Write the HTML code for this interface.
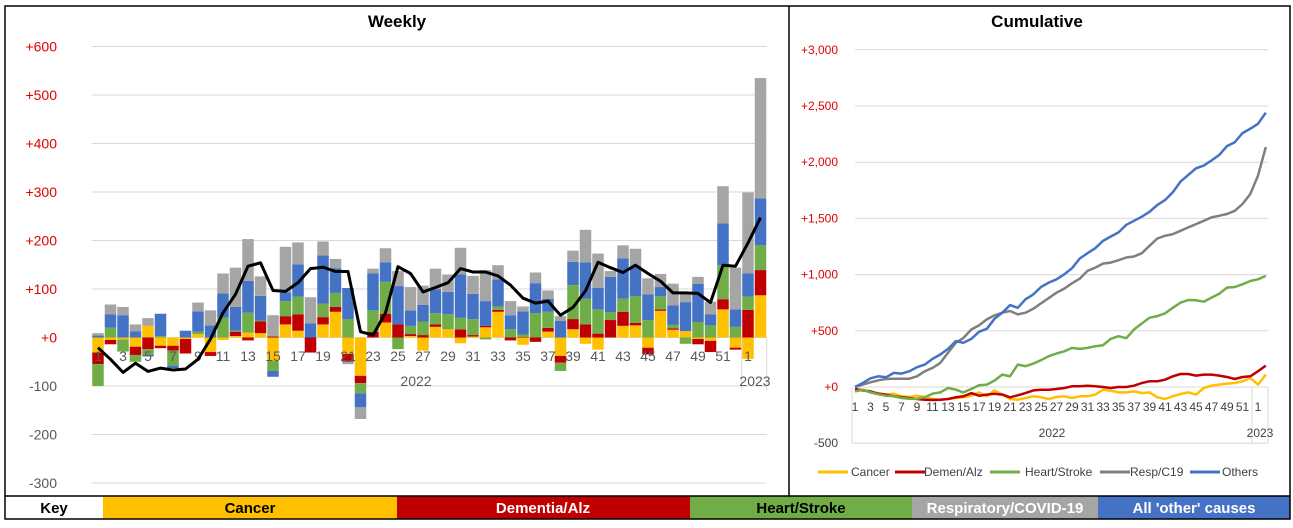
<!DOCTYPE html>
<html><head><meta charset="utf-8">
<style>
html,body{margin:0;padding:0;background:#fff;}
body{width:1293px;height:528px;overflow:hidden;font-family:"Liberation Sans",Calibri,sans-serif;}
svg{display:block;}
</style></head>
<body>
<svg id="chart" width="1293" height="528" viewBox="0 0 1293 528" xmlns="http://www.w3.org/2000/svg" font-family="Liberation Sans, sans-serif">
  <rect x="0" y="0" width="1293" height="528" fill="#fff"/>
  <g id="weekly"></g>
  <g id="cumul"></g>
  <text x="397" y="27" text-anchor="middle" font-size="17" font-weight="bold" fill="#000">Weekly</text>
  <text x="1037" y="27" text-anchor="middle" font-size="17" font-weight="bold" fill="#000">Cumulative</text>
  <g font-weight="bold" font-size="15" text-anchor="middle">
    <rect x="5" y="496" width="98" height="23" fill="#fff"/>
    <text x="54" y="513" fill="#000">Key</text>
    <rect x="103" y="496" width="294" height="23" fill="#FFC000"/>
    <text x="250" y="513" fill="#000">Cancer</text>
    <rect x="397" y="496" width="293" height="23" fill="#C00000"/>
    <text x="543" y="513" fill="#fff">Dementia/Alz</text>
    <rect x="690" y="496" width="222" height="23" fill="#70AD47"/>
    <text x="801" y="513" fill="#000">Heart/Stroke</text>
    <rect x="912" y="496" width="186" height="23" fill="#A5A5A5"/>
    <text x="1005" y="513" fill="#fff">Respiratory/COVID-19</text>
    <rect x="1098" y="496" width="192" height="23" fill="#4472C4"/>
    <text x="1194" y="513" fill="#fff">All 'other' causes</text>
  </g>
  <g fill="none" stroke="#000" stroke-width="1.5">
    <rect x="5" y="6" width="1285" height="513"/>
    <line x1="5" y1="496" x2="1290" y2="496"/>
    <line x1="789" y1="6" x2="789" y2="496"/>
  </g>
</svg>
<script>
// ---------- Weekly data ----------
const weekLabels = ["1","","3","","5","","7","","9","","11","","13","","15","","17","","19","","21","","23","","25","","27","","29","","31","","33","","35","","37","","39","","41","","43","","45","","47","","49","","51","","1",""];
const cancer = [-31,-5,-4,-19,24,-17,-17,-3,7,-30,-5,3,10,9,-48,27,14,0,27,53,-34,-79,0,31,0,3,-27,22,17,-12,2,21,53,0,-15,0,12,-38,17,-13,-25,0,24,25,-21,55,16,13,-3,-7,58,-21,-44,87];
const dementia = [-24,-9,0,-17,-24,-5,-10,-30,0,-8,0,9,-6,24,2,17,34,-31,15,10,-16,-15,12,18,27,4,5,5,0,17,3,3,4,-6,1,-9,8,-14,21,27,8,36,29,5,-14,3,3,0,-11,-23,21,-4,57,52];
const heart = [-45,20,-25,-14,-12,3,-31,0,5,0,41,2,41,2,-21,31,36,0,28,29,38,-21,44,66,-24,17,28,23,31,24,33,-4,7,17,5,50,33,-17,70,53,50,16,27,55,36,27,7,-13,32,25,70,22,27,51];
const others = [4,28,46,13,-3,46,-5,14,42,25,50,49,66,51,-12,18,67,29,99,51,64,-29,76,40,79,32,34,49,46,89,52,51,56,29,48,62,27,34,48,75,44,73,83,62,53,19,40,60,79,23,86,36,48,97];
const resp = [5,20,17,14,16,0,0,0,18,31,41,81,86,40,44,94,45,54,29,19,-5,-24,10,29,31,48,40,43,36,55,37,64,29,29,10,22,17,10,23,67,71,12,27,36,33,27,45,19,14,26,77,86,167,248];
const avgLine = [-21,-45,-72,-53,-70,-63,-67,-65,-45,-3,51,89,147,154,97,95,113,142,145,136,136,12,5,51,146,132,94,103,113,142,135,135,127,108,81,71,75,46,62,96,155,144,134,149,132,116,92,92,91,72,149,147,195,247];
const weeklyTicks = [600,500,400,300,200,100,0,-100,-200,-300];

// ---------- Cumulative data ----------
const cumLabels = weekLabels;
const cumCancer = [-30,-24,-48,-54,-68,-60,-83,-89,-77,-89,-107,-113,-107,-98,-92,-77,-48,-83,-30,-68,-107,-113,-98,-83,-92,-107,-89,-83,-98,-83,-83,-68,-24,-33,-48,-48,-39,-54,-48,-92,-107,-83,-62,-48,-68,-9,12,21,30,36,51,80,21,110];
const cumDementia = [-18,-30,-39,-60,-68,-83,-92,-98,-107,-113,-116,-113,-107,-92,-83,-54,-77,-68,-60,-68,-92,-74,-54,-30,-24,-24,-18,-9,6,6,12,6,0,-9,0,0,12,36,51,51,65,95,116,116,101,110,110,101,89,71,89,95,140,190];
const cumHeart = [-39,-24,-48,-65,-77,-83,-98,-104,-104,-92,-60,-48,-9,-24,-48,-18,15,21,57,110,95,199,185,208,238,274,298,318,348,339,348,363,372,429,452,434,512,565,616,631,655,705,750,774,771,759,795,830,884,890,914,943,958,988];
const cumResp = [0,21,42,60,71,74,74,74,95,140,170,214,304,393,437,512,548,601,637,661,676,646,661,696,744,792,839,875,923,964,1033,1062,1098,1107,1128,1152,1161,1190,1256,1321,1345,1360,1390,1420,1449,1479,1509,1524,1539,1568,1628,1717,1881,2134];
const cumOthers = [0,36,77,95,86,125,119,140,176,199,250,289,339,408,393,428,491,518,607,661,729,705,780,824,890,929,958,1003,1057,1143,1190,1235,1300,1339,1375,1443,1479,1515,1559,1619,1663,1732,1827,1887,1946,1970,2015,2065,2143,2178,2259,2298,2342,2440];
const cumTicks = [3000,2500,2000,1500,1000,500,0,-500];
const cumTickLabels = ["+3,000","+2,500","+2,000","+1,500","+1,000","+500","+0","-500"];

const NS = "http://www.w3.org/2000/svg";
function mk(tag, attrs, parent){
  const e = document.createElementNS(NS, tag);
  for (const k in attrs) e.setAttribute(k, attrs[k]);
  parent.appendChild(e);
  return e;
}

// ---------- Weekly chart ----------
(function(){
  const g = document.getElementById('weekly');
  const x0 = 91.75, step = 12.5, yZero = 337.5, pxPer = 0.485;
  const xC = i => x0 + step*(i+0.5);
  const y = v => yZero - v*pxPer;
  const right = x0 + step*weekLabels.length;
  weeklyTicks.forEach(t => {
    const gl = mk('line', {x1:x0, x2:right, y1:y(t), y2:y(t), stroke:'#D9D9D9', 'stroke-width':1}, g);
    
    
    const tl = mk('text', {x:57, y:y(t)+5, 'text-anchor':'end', 'font-size':14, fill: t>=0 ? '#E00000' : '#595959'}, g);
    tl.textContent = (t>=0 ? '+' : '') + t;
    
    
  });
  const series = [[cancer,'#FFC000','cancer'],[dementia,'#C00000','dementia'],[heart,'#70AD47','heart'],[others,'#4472C4','others'],[resp,'#A5A5A5','resp']];
  const bw = 11.5;
  for (let i=0;i<weekLabels.length;i++){
    let pos=0, neg=0;
    series.forEach(([arr,col,nm]) => {
      const v = arr[i];
      let top, h;
      if (v>=0){ top = y(pos+v); h = v*pxPer; pos += v; }
      else { top = y(neg); h = -v*pxPer; neg += v; }
      const r = mk('rect', {x:xC(i)-bw/2, y:top, width:bw, height:h, fill:col}, g);
      
      
    });
  }
  // axis labels
  weekLabels.forEach((l,i) => {
    if (!l) return;
    const t = mk('text', {x:xC(i), y:361, 'text-anchor':'middle', 'font-size':14, fill:'#595959'}, g);
    t.textContent = l;
    
    
  });
  const sep = mk('line', {x1:x0+step*52, x2:x0+step*52, y1:yZero, y2:390, stroke:'#D9D9D9'}, g);
  
  
  const sep2 = mk('line', {x1:right, x2:right, y1:yZero, y2:390, stroke:'#D9D9D9'}, g);
  
  
  const y22 = mk('text', {x:416, y:386, 'text-anchor':'middle', 'font-size':14, fill:'#595959'}, g);
  y22.textContent = '2022';
  
  
  const y23 = mk('text', {x:755, y:386, 'text-anchor':'middle', 'font-size':14, fill:'#595959'}, g);
  y23.textContent = '2023';
  
  
  const pts = avgLine.map((v,i) => xC(i).toFixed(1)+','+y(v).toFixed(1)).join(' ');
  const pl = mk('polyline', {points:pts, fill:'none', stroke:'#000', 'stroke-width':3, 'stroke-linejoin':'round'}, g);
  
  
})();

// ---------- Cumulative chart ----------
(function(){
  const g = document.getElementById('cumul');
  const x0 = 852, step = 7.75, yZero = 387, pxPer = 56.2/500;
  const xC = i => 855 + step*i;
  const y = v => yZero - v*pxPer;
  const right = 1268;
  cumTicks.forEach((t,k) => {
    const gl = mk('line', {x1:t===-500?x0:855, x2:right, y1:y(t), y2:y(t), stroke:'#D9D9D9', 'stroke-width':1}, g);
    
    
    const tl = mk('text', {x:838, y:y(t)+4, 'text-anchor':'end', 'font-size':12, fill: t>=0 ? '#E00000' : '#404040'}, g);
    tl.textContent = cumTickLabels[k];
    
    
  });
  [x0, 1252, right].forEach(xx => {
    const l = mk('line', {x1:xx, x2:xx, y1:yZero, y2:443, stroke:'#D9D9D9'}, g);
    
    
  });
  cumLabels.forEach((l,i) => {
    if (!l) return;
    const t = mk('text', {x:xC(i), y:411, 'text-anchor':'middle', 'font-size':12, fill:'#404040'}, g);
    t.textContent = l;
    
    
  });
  const a = mk('text', {x:1052, y:437, 'text-anchor':'middle', 'font-size':12, fill:'#404040'}, g);
  a.textContent = '2022';
  
  
  const b = mk('text', {x:1260, y:437, 'text-anchor':'middle', 'font-size':12, fill:'#404040'}, g);
  b.textContent = '2023';
  
  
  const lines = [[cumCancer,'#FFC000','cancer'],[cumDementia,'#C00000','dementia'],[cumHeart,'#70AD47','heart'],[cumResp,'#7F7F7F','resp'],[cumOthers,'#4472C4','others']];
  lines.forEach(([arr,col,nm]) => {
    const pts = arr.map((v,i) => xC(i).toFixed(1)+','+y(v).toFixed(1)).join(' ');
    const pl = mk('polyline', {points:pts, fill:'none', stroke:col, 'stroke-width':2.5, 'stroke-linejoin':'round'}, g);
    
    
  });
  const leg = [['#FFC000','Cancer',818,851],['#C00000','Demen/Alz',895,924],['#70AD47','Heart/Stroke',990,1025],['#7F7F7F','Resp/C19',1100,1130],['#4472C4','Others',1190,1222]];
  leg.forEach(([col,txt,lx,tx]) => {
    const ln = mk('line', {x1:lx, x2:lx+30, y1:472, y2:472, stroke:col, 'stroke-width':3}, g);
    
    
    const t = mk('text', {x:tx, y:476, 'font-size':12, fill:'#404040'}, g);
    t.textContent = txt;
    
    
  });
})();
</script>
</body></html>
